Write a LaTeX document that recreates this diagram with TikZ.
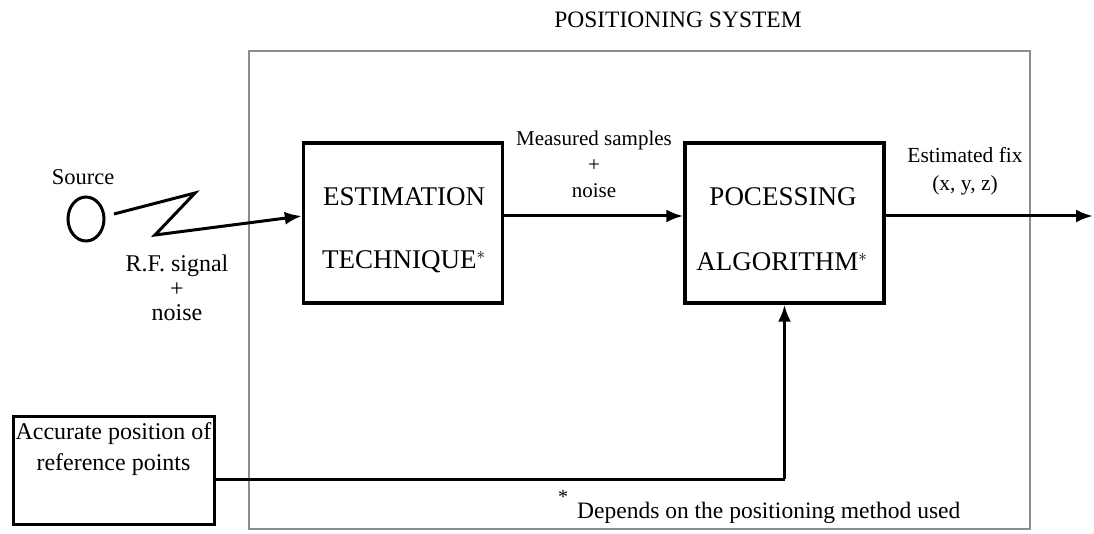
\documentclass[tikz,border=0pt]{standalone}
\usepackage{fontspec}
\setmainfont{Liberation Serif}
\usetikzlibrary{arrows.meta,shapes.geometric,calc}
\begin{document}
\begin{tikzpicture}[x=1pt,y=-1pt,
  blockbox/.style={draw=black,line width=3.4pt,minimum width=199pt,minimum height=160pt,inner sep=0pt},
  frame/.style={draw=black!45,line width=1.6pt},
  link/.style={line width=3pt,-{Latex[length=17pt,width=13pt]}},
  wire/.style={line width=3pt},
  boxtext/.style={font=\fontsize{27}{30}\selectfont,inner sep=0pt},
  lbl/.style={font=\fontsize{22}{25}\selectfont,inner sep=0pt,align=center}]
% canvas
\path[use as bounding box,fill=white] (0,0) rectangle (1094,534);

% positioning system frame and title
\draw[frame] (249,51) rectangle (1030,529);
\node[font=\fontsize{23.5}{26}\selectfont,inner sep=0pt] (title) at (678,20) {POSITIONING SYSTEM};

% processing blocks
\node[blockbox] (est) at (403,223) {};
\node[boxtext] (estA) at (404,197) {ESTIMATION};
\node[boxtext] (estB) at (404,262) {TECHNIQUE$^{*}$};

\node[blockbox] (proc) at (784.5,223) {};
\node[boxtext] (procA) at (783,197) {POCESSING};
\node[boxtext] (procB) at (782,262) {ALGORITHM$^{*}$};

% source and radio link
\node[lbl,font=\fontsize{22.5}{25}\selectfont] (srclbl) at (83,177) {Source};
\node[draw,ellipse,line width=3pt,minimum width=36pt,minimum height=44pt,inner sep=0pt] (src) at (86,219) {};
\coordinate (z0) at (114,214);
\coordinate (z1) at (195,193);
\coordinate (z2) at (155,235);
\draw[link] (z0) -- (z1) -- (z2) -- ([yshift=7pt]est.west);
\node[lbl,font=\fontsize{24}{24.5}\selectfont] (rflbl) at (177,288) {R.F. signal\\+\\noise};

% measured samples
\draw[link] ([yshift=7pt]est.east) -- ([yshift=7pt]proc.west);
\node[lbl,font=\fontsize{21}{26}\selectfont] (mslbl) at (594,164) {Measured samples\\+\\noise};

% output fix
\coordinate (out) at (1093,216);
\draw[link] ([yshift=7pt]proc.east) -- (out);
\node[lbl,font=\fontsize{21.5}{28}\selectfont] (fixlbl) at (965,171) {Estimated fix\\(x, y, z)};

% reference points
\node[draw=black,line width=3pt,minimum width=201pt,minimum height=108pt,inner sep=0pt] (acc) at (113.5,470) {};
\node[lbl,font=\fontsize{24}{31}\selectfont] (acclbl) at (113.5,449) {Accurate position of\\reference points};
\coordinate (bend) at (proc.south |- 0,479);
\draw[wire] (acc.east |- bend) -- (bend);
\draw[link] (bend) -- (proc.south);

% footnote
\node[font=\fontsize{20}{22}\selectfont,inner sep=0pt] (star) at (563,497) {*};
\node[font=\fontsize{23.5}{26}\selectfont,inner sep=0pt,anchor=west] (note) at (577,513) {Depends on the positioning method used};
\end{tikzpicture}
\end{document}
